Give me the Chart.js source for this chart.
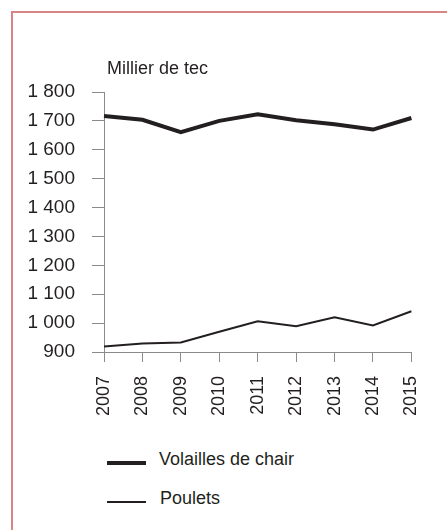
<!DOCTYPE html>
<html>
<head>
<meta charset="utf-8">
<script src="https://cdn.jsdelivr.net/npm/chart.js@4/dist/chart.umd.min.js"></script>
<style>
  html, body { margin: 0; padding: 0; background: #ffffff; width: 447px; height: 530px; overflow: hidden; }
  body { position: relative; font-family: "Liberation Sans", Arial, sans-serif; color: #231f20; }
  #frame { position: absolute; left: 11px; top: 11px; width: 600px; height: 700px; border-left: 2px solid #d98585; border-top: 2px solid #d98585; box-sizing: border-box; }
  #wrap { position: absolute; left: 0; top: 0; width: 447px; height: 440px; }
  #unit { position: absolute; left: 107px; top: 59px; font-size: 18px; line-height: 18px; white-space: nowrap; }
  .lg-line { position: absolute; left: 107px; width: 39px; background: #231f20; }
  .lg-text { position: absolute; font-size: 18px; line-height: 18px; white-space: nowrap; }
</style>
</head>
<body>
<div id="frame"></div>
<div id="wrap"><canvas id="c" width="447" height="440"></canvas></div>
<div id="unit">Millier de tec</div>
<div class="lg-line" style="top:461px;height:4px;"></div>
<div class="lg-text" style="left:159px;top:450px;">Volailles de chair</div>
<div class="lg-line" style="top:501px;height:2px;"></div>
<div class="lg-text" style="left:160px;top:489px;">Poulets</div>
<script>
const years = ["2007","2008","2009","2010","2011","2012","2013","2014","2015"];
const volailles = [1717, 1704, 1661, 1700, 1723, 1702, 1688, 1670, 1710];
const poulets = [919, 929, 933, 970, 1006, 989, 1020, 992, 1041];
const yTicks = [900, 1000, 1100, 1200, 1300, 1400, 1500, 1600, 1700, 1800];
const seriesNames = ["Volailles de chair", "Poulets"];

function fmt(v) {
  const s = String(Math.round(v));
  return s.replace(/\B(?=(\d{3})+(?!\d))/g, " ");
}

const ink = "#231f20";
const axisGray = "#8a8a8a";

new Chart(document.getElementById("c"), {
  type: "line",
  data: {
    labels: years,
    datasets: [
      { label: seriesNames[0], data: volailles, borderColor: ink, borderWidth: 4, pointRadius: 0, tension: 0, fill: false },
      { label: seriesNames[1], data: poulets, borderColor: ink, borderWidth: 2, pointRadius: 0, tension: 0, fill: false }
    ]
  },
  options: {
    responsive: false,
    animation: false,
    devicePixelRatio: 1,
    layout: { padding: { left: 0, right: 21, top: 92, bottom: 0 } },
    plugins: { legend: { display: false }, tooltip: { enabled: false }, title: { display: false } },
    scales: {
      x: {
        type: "category",
        offset: false,
        afterFit: (s) => { s.height = 88; },
        grid: { display: true, drawOnChartArea: false, drawTicks: true, tickLength: 10, color: axisGray, lineWidth: 1, offset: false },
        border: { display: true, color: axisGray, width: 1 },
        ticks: { autoSkip: false, minRotation: 90, maxRotation: 90, padding: 14, color: ink, font: { family: "Liberation Sans", size: 18 } }
      },
      y: {
        min: 900,
        max: 1800,
        afterFit: (s) => { s.width = 104; },
        afterBuildTicks: (s) => { s.ticks = yTicks.map(v => ({ value: v })); },
        grid: { display: true, drawOnChartArea: false, drawTicks: true, tickLength: 12, color: axisGray, lineWidth: 1 },
        border: { display: true, color: axisGray, width: 1 },
        ticks: { padding: 17, color: ink, font: { family: "Liberation Sans", size: 19 }, callback: (v) => fmt(v) }
      }
    }
  }
});
</script>
</body>
</html>
